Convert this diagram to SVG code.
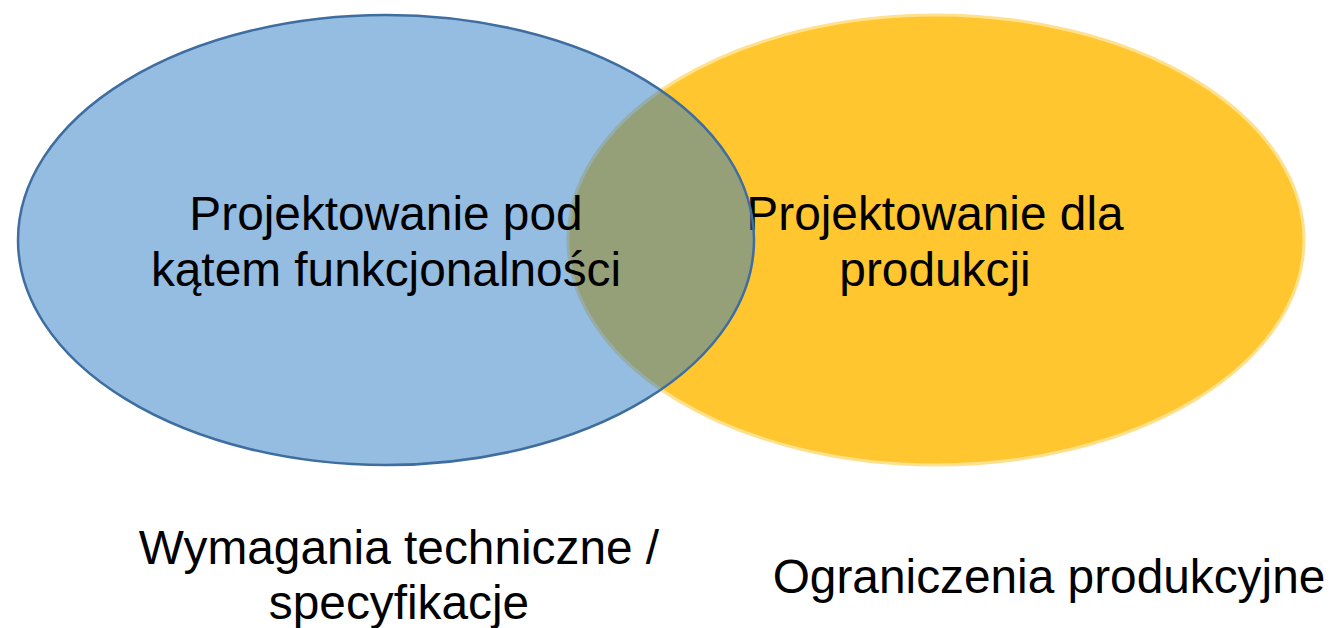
<svg xmlns="http://www.w3.org/2000/svg" width="1333" height="628" viewBox="0 0 1333 628">
  <style>
    .lbl { font-family: "Liberation Sans", Arial, sans-serif; font-size: 47.8px; fill: #000; text-anchor: middle; }
  </style>
  <rect width="1333" height="628" fill="#ffffff"/>
  <g id="node-produkcja">
    <ellipse cx="936" cy="240" rx="368" ry="225" fill="#FFC62F" stroke="#FFE08C" stroke-width="3"/>
    <text class="lbl" x="935" y="230">Projektowanie dla</text>
    <text class="lbl" x="935" y="286">produkcji</text>
  </g>
  <g id="node-funkcjonalnosc">
    <ellipse cx="386" cy="240" rx="368" ry="225" fill="rgb(43,121,195)" fill-opacity="0.5" stroke="#3E6D9F" stroke-width="2.5"/>
    <text class="lbl" x="386" y="230">Projektowanie pod</text>
    <text class="lbl" x="386" y="286">kątem funkcjonalności</text>
  </g>
  <g id="connectors"></g>
  <g id="label-wymagania">
    <text class="lbl" x="399" y="564">Wymagania techniczne /</text>
    <text class="lbl" x="399" y="619">specyfikacje</text>
  </g>
  <g id="label-ograniczenia">
    <text class="lbl" x="1049" y="593">Ograniczenia produkcyjne</text>
  </g>
</svg>
